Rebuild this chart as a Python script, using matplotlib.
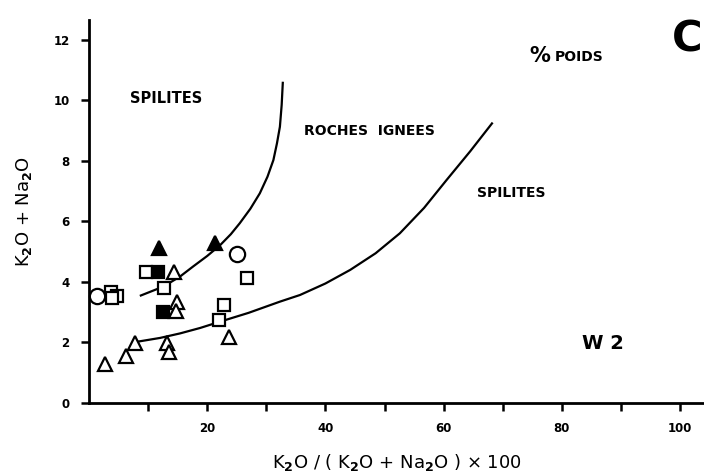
import matplotlib
matplotlib.use("Agg")
import matplotlib.pyplot as plt

# --- data ---
open_tri_x = [2.7, 6.2, 7.7, 13.2, 13.6, 14.3, 14.9, 14.8, 23.7]
open_tri_y = [1.29, 1.55, 1.97, 1.97, 1.70, 4.34, 3.35, 3.05, 2.17]
filled_tri_x = [11.9, 21.3]
filled_tri_y = [5.11, 5.28]
open_sq_x = [3.7, 4.8, 3.9, 9.6, 12.7, 22.8, 22.0, 26.8]
open_sq_y = [3.68, 3.54, 3.46, 4.34, 3.79, 3.24, 2.74, 4.14]
filled_sq_x = [11.6, 12.5]
filled_sq_y = [4.34, 3.02]
circle_x = [1.3, 25.1]
circle_y = [3.54, 4.93]

curve1_x = [8.6, 12.6, 15.4, 17.6, 20.0, 22.2, 24.0, 25.5, 27.3, 28.9, 30.2, 31.2, 31.8, 32.3, 32.6, 32.8]
curve1_y = [3.54, 3.85, 4.18, 4.51, 4.86, 5.22, 5.58, 5.94, 6.42, 6.93, 7.48, 8.03, 8.58, 9.13, 9.85, 10.62]
curve2_x = [8.3, 12.0, 15.4, 18.8, 22.2, 27.0, 32.3, 35.7, 40.0, 44.2, 48.5, 52.6, 56.7, 60.5, 64.5, 68.3]
curve2_y = [2.03, 2.15, 2.30, 2.48, 2.69, 2.98, 3.35, 3.57, 3.95, 4.40, 4.95, 5.61, 6.45, 7.37, 8.32, 9.27]

x_ticks = [10, 20, 30, 40, 50, 60, 70, 80, 90, 100]
x_tick_labels = ["", "20", "", "40", "", "60", "", "80", "", "100"]
y_ticks = [0, 2, 4, 6, 8, 10, 12]

plt.rcParams['font.family'] = ['DejaVu Sans']
fig = plt.figure(figsize=(7.04, 4.72), dpi=100)
ax = fig.add_axes([89/704, 69/472, 615/704, 383/472])
ax.set_xlim(0, 104.06)
ax.set_ylim(0, 12.66)
for s in ['top', 'right']:
    ax.spines[s].set_visible(False)
for s in ['left', 'bottom']:
    ax.spines[s].set_linewidth(2.0)
ax.set_xticks(x_ticks)
ax.set_xticklabels(x_tick_labels, fontsize=8.5, fontweight='bold')
ax.set_yticks(y_ticks)
ax.set_yticklabels([str(v) for v in y_ticks], fontsize=8.5, fontweight='bold')
ax.tick_params(axis='both', direction='out', length=6, width=1.8, pad=8)

ax.plot(curve1_x, curve1_y, color='black', lw=1.6, solid_capstyle='butt', solid_joinstyle='round')
ax.plot(curve2_x, curve2_y, color='black', lw=1.6, solid_capstyle='butt', solid_joinstyle='round')

mk = dict(linestyle='none', markeredgecolor='black', markeredgewidth=1.6, clip_on=False)
ax.plot(open_tri_x, open_tri_y, marker='^', markersize=10, markerfacecolor='white', **mk)
ax.plot(filled_tri_x, filled_tri_y, marker='^', markersize=10, markerfacecolor='black', **mk)
ax.plot(open_sq_x, open_sq_y, marker='s', markersize=9, markerfacecolor='white', **mk)
ax.plot(filled_sq_x, filled_sq_y, marker='s', markersize=9, markerfacecolor='black', **mk)
ax.plot(circle_x, circle_y, marker='o', markersize=11, markerfacecolor='white', **mk)

ax.text(13.0, 10.05, "SPILITES", fontsize=10.5, fontweight='bold', ha='center', va='center')
ax.text(47.5, 9.0, "ROCHES  IGNEES", fontsize=10, fontweight='bold', ha='center', va='center')
ax.text(71.4, 6.94, "SPILITES", fontsize=10, fontweight='bold', ha='center', va='center')
ax.text(74.5, 11.48, "%", fontsize=15, fontweight='bold', ha='left', va='center')
ax.text(78.8, 11.45, "POIDS", fontsize=10, fontweight='bold', ha='left', va='center')
ax.text(87.0, 1.98, "W 2", fontsize=14, fontweight='bold', ha='center', va='center')

fig.text(703/704, 1 - 40/472, "C", fontsize=30, fontweight='bold', ha='right', va='center')

ax.set_xlabel(r"K$_\mathbf{2}$O / ( K$_\mathbf{2}$O + Na$_\mathbf{2}$O ) × 100", fontsize=13, labelpad=12)
ax.set_ylabel(r"K$_\mathbf{2}$O + Na$_\mathbf{2}$O", fontsize=13, labelpad=14)

fig.savefig("out.png", dpi=100)
